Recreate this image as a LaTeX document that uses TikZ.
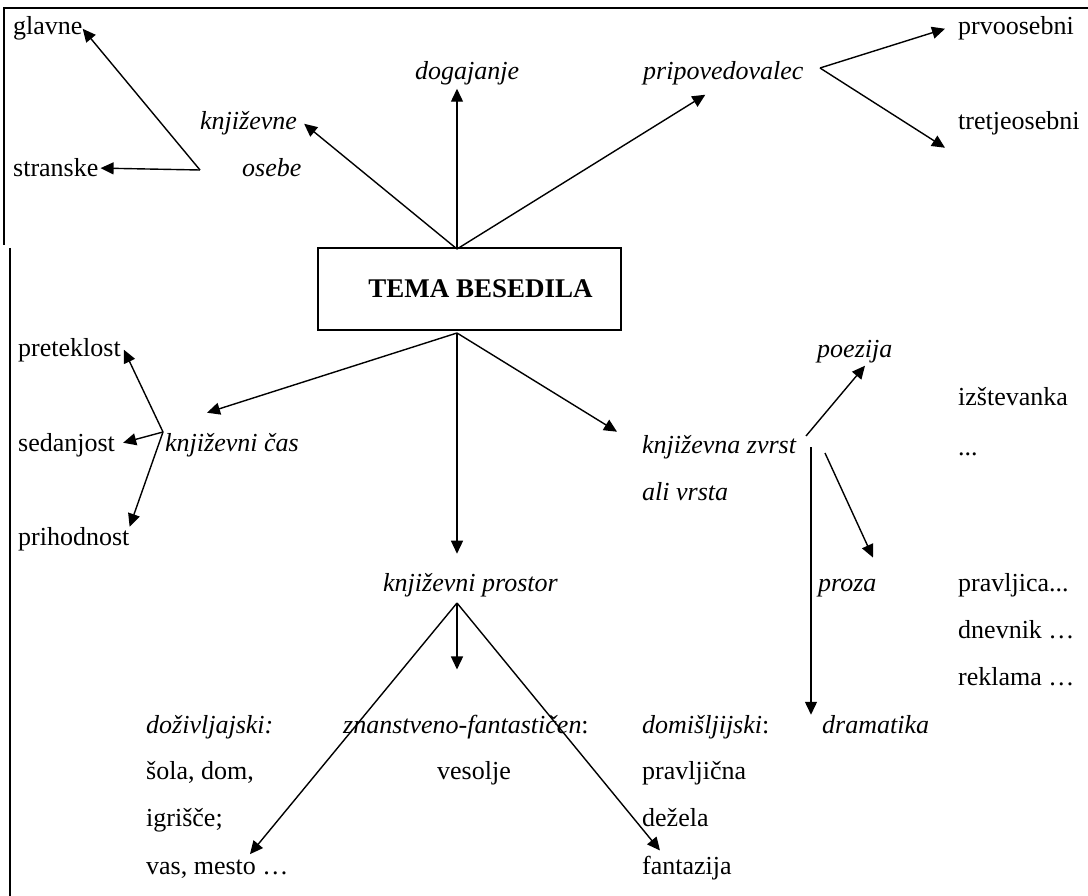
\documentclass[tikz,border=0pt]{standalone}
\usepackage{fontspec}
\setmainfont{Liberation Serif}
\usetikzlibrary{arrows.meta}

\tikzset{
  txt/.style={anchor=base west, inner sep=0pt, font=\fontsize{26}{30}\selectfont},
  itxt/.style={txt, font=\fontsize{26}{30}\selectfont\itshape},
  arr/.style={-{Triangle[length=13pt,width=12pt]}, line width=1.4pt},
  rim/.style={line width=2.6pt},
}

\begin{document}
\begin{tikzpicture}[x=1pt,y=-1pt]
  \useasboundingbox (0,0) rectangle (1088,896);
  % frame
  \draw[rim] (3,8) -- (1090,8);
  \draw[rim] (4,8) -- (4,245);
  \draw[rim] (10,248) -- (10,898);

  % centre
  \node[draw, line width=2pt, minimum width=303pt, minimum height=82pt,
        font=\fontsize{27}{30}\selectfont\bfseries] (tema) at (469.5,289) {\hspace*{22pt}TEMA BESEDILA};

  % top half
  \node[txt]  (glavne)    at (13,35)   {glavne};
  \node[txt]  (stranske)  at (13,177)  {stranske};
  \node[itxt] (knjizevne) at (200,130) {književne};
  \node[itxt] (osebe)     at (242,177) {osebe};
  \node[itxt] (dogajanje) at (415,80)  {dogajanje};
  \node[itxt] (pripov)    at (643,80)  {pripovedovalec};
  \node[txt]  (prvo)      at (958,35)  {prvoosebni};
  \node[txt]  (tretje)    at (958,130) {tretjeosebni};

  \coordinate (apex)   at (457,249);
  \coordinate (v-oseb) at (200,170);
  \coordinate (v-prip) at (820,68);

  \draw[arr] (apex) -- ([xshift=7pt]knjizevne.east);
  \draw[arr] (apex) -- ([yshift=-3pt]dogajanje.south -| apex);
  \draw[arr] (apex) -- ([shift={(-18pt,-9pt)}]pripov.south);
  \draw[arr] (v-oseb) -- (glavne.east);
  \draw[arr] (v-oseb) -- ([xshift=2pt]stranske.east);
  \draw[arr] (v-prip) -- ([xshift=-13pt]prvo.west);
  \draw[arr] (v-prip) -- ([shift={(-13pt,-24pt)}]tretje.west);

  % bottom half
  \node[txt]  (preteklost) at (18,356)  {preteklost};
  \node[txt]  (sedanjost)  at (18,451)  {sedanjost};
  \node[txt]  (prihodnost) at (18,545)  {prihodnost};
  \node[itxt] (cas)        at (165,451) {književni čas};

  \node[itxt] (zvrst)      at (642,453) {književna zvrst};
  \node[itxt] (vrsta)      at (642,500) {ali vrsta};
  \node[itxt] (poezija)    at (817,358) {poezija};
  \node[itxt] (proza)      at (818,591) {proza};
  \node[itxt] (dramatika)  at (822,733) {dramatika};
  \node[txt]  (izstevanka) at (958,405) {izštevanka};
  \node[txt]  (pik)        at (958,455) {...};
  \node[txt]  (pravljica)  at (958,591) {pravljica...};
  \node[txt]  (dnevnik)    at (958,638) {dnevnik …};
  \node[txt]  (reklama)    at (958,685) {reklama …};

  \node[itxt] (prostor)    at (383,591) {književni prostor};
  \node[itxt] (dozivlj)    at (146,733) {doživljajski:};
  \node[txt]  (sola)       at (146,779) {šola, dom,};
  \node[txt]  (igrisce)    at (146,826) {igrišče;};
  \node[txt]  (vas)        at (146,874) {vas, mesto …};
  \node[txt]  (znanstv)    at (343,733) {\itshape znanstveno-fantastičen\upshape:};
  \node[txt]  (vesolje)    at (437,779) {vesolje};
  \node[txt]  (domislj)    at (642,733) {\itshape domišljijski\upshape:};
  \node[txt]  (pravljicna) at (642,779) {pravljična};
  \node[txt]  (dezela)     at (642,826) {dežela};
  \node[txt]  (fantazija)  at (642,874) {fantazija};

  \coordinate (base)    at (457,333);
  \coordinate (v-cas)   at (163,432);
  \coordinate (v-poez)  at (806,436);
  \coordinate (v-proza) at (825,453);
  \coordinate (v-dram)  at (811,447);
  \coordinate (v-prost) at (457,603);

  \draw[arr] (base) -- ([shift={(42pt,20pt)}]cas.north west);
  \draw[arr] (base) -- ([yshift=19pt]prostor.north -| base);
  \draw[arr] (base) -- ([shift={(-25pt,3pt)}]zvrst.north west);

  \draw[arr] (v-cas) -- ([xshift=3pt]preteklost.east);
  \draw[arr] (v-cas) -- ([shift={(8pt,2pt)}]sedanjost.east);
  \draw[arr] (v-cas) -- (prihodnost.north east);

  \draw[arr] (v-poez) -- ([shift={(48pt,-2pt)}]poezija.south west);
  \draw[arr] (v-proza) -- ([shift={(55pt,21pt)}]proza.north west);
  \draw[arr] (v-dram) -- (v-dram |- dramatika.north);

  \draw[arr] (v-prost) -- ([yshift=45pt]v-prost |- znanstv.north);
  \draw[arr] (v-prost) -- ([shift={(104pt,5pt)}]vas.north west);
  \draw[arr] (v-prost) -- ([shift={(18pt,5pt)}]fantazija.north west);
\end{tikzpicture}
\end{document}
